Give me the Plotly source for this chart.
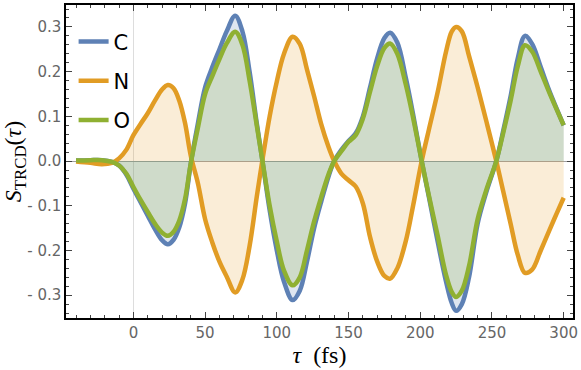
import plotly.graph_objects as go

tau = [-40, -30, -22, -15, -10, -5, 0, 5, 10, 15, 20, 24, 28, 32, 36, 40, 45, 50, 55, 60,
       65, 71, 76, 81, 86, 90, 95, 100, 105, 111, 116, 121, 126, 131, 136, 140, 145, 150, 155, 160,
       165, 170, 175, 179, 184, 190, 195, 201, 206, 212, 218, 222, 225, 229, 234, 240, 246, 253, 258, 263,
       268, 273, 278, 284, 290, 295, 300]

s_c = [0.001, 0.002, 0.002, -0.002, -0.01, -0.03, -0.062, -0.092, -0.122, -0.152, -0.177, -0.186, -0.176, -0.148, -0.095, -0.005, 0.085, 0.165, 0.21, 0.25,
       0.29, 0.325, 0.29, 0.2, 0.085, 0.0, -0.11, -0.2, -0.27, -0.311, -0.29, -0.225, -0.15, -0.09, -0.035, 0.0, 0.025, 0.045, 0.062, 0.1,
       0.165, 0.23, 0.275, 0.287, 0.265, 0.185, 0.105, 0.0, -0.08, -0.178, -0.27, -0.318, -0.335, -0.32, -0.26, -0.14, -0.07, 0.0, 0.07, 0.145,
       0.23, 0.28, 0.262, 0.21, 0.157, 0.118, 0.08]

s_n = [-0.001, -0.004, -0.007, -0.004, 0.006, 0.025, 0.058, 0.083, 0.107, 0.135, 0.16, 0.17, 0.163, 0.135, 0.085, 0.012, -0.05, -0.13, -0.182, -0.225,
       -0.258, -0.294, -0.265, -0.19, -0.08, 0.003, 0.1, 0.178, 0.24, 0.278, 0.262, 0.205, 0.145, 0.082, 0.032, 0.0, -0.028, -0.043, -0.057, -0.095,
       -0.17, -0.225, -0.257, -0.263, -0.24, -0.178, -0.1, 0.0, 0.07, 0.152, 0.245, 0.29, 0.3, 0.29, 0.235, 0.165, 0.09, 0.0, -0.07, -0.14,
       -0.21, -0.25, -0.243, -0.2, -0.155, -0.118, -0.082]

s_o = [0.001, 0.002, 0.002, -0.002, -0.01, -0.028, -0.058, -0.087, -0.114, -0.14, -0.16, -0.167, -0.158, -0.133, -0.085, -0.005, 0.075, 0.15, 0.19, 0.228,
       0.263, 0.289, 0.26, 0.18, 0.08, 0.0, -0.1, -0.18, -0.245, -0.278, -0.26, -0.2, -0.135, -0.08, -0.03, 0.0, 0.022, 0.043, 0.058, 0.095,
       0.155, 0.213, 0.253, 0.263, 0.24, 0.17, 0.097, 0.0, -0.077, -0.165, -0.255, -0.293, -0.304, -0.29, -0.235, -0.13, -0.065, 0.0, 0.065, 0.135,
       0.212, 0.259, 0.245, 0.2, 0.153, 0.116, 0.08]

series = [("C", s_c, "#5e81b5", "rgba(94,129,181,0.2)"),
          ("N", s_n, "#e19c24", "rgba(225,156,36,0.18)"),
          ("O", s_o, "#8fb032", "rgba(143,176,50,0.2)")]

fig = go.Figure()

# filled areas first, without legend entries
for name, ys, col, fcol in series:
    fig.add_trace(go.Scatter(x=tau, y=ys, mode="lines", fill="tozeroy", fillcolor=fcol,
                             line=dict(width=0, shape="spline", color=col),
                             showlegend=False, hoverinfo="skip"))

for name, ys, col, fcol in series:
    fig.add_trace(go.Scatter(x=tau, y=ys, mode="lines", name=name, legendgroup=name,
                             line=dict(width=4.5, shape="spline", color=col)))

tick_font = dict(family="DejaVu Sans", size=15, color="#666666")

fig.update_xaxes(range=[-47, 306.5], tickvals=[0, 50, 100, 150, 200, 250, 300],
                 ticks="inside", ticklen=6, tickcolor="#444", tickwidth=1,
                 minor=dict(dtick=10, tick0=0, ticks="inside", ticklen=3, tickcolor="#444"),
                 showline=True, linecolor="black", linewidth=1.5, mirror="allticks",
                 showgrid=False, zeroline=True, zerolinecolor="#dddddd", zerolinewidth=1,
                 tickfont=tick_font,
                 title=dict(text="<i>τ</i>  (fs)", font=dict(family="Liberation Serif", size=24, color="black"),
                            standoff=2))

fig.update_yaxes(range=[-0.351, 0.349],
                 tickvals=[-0.3, -0.2, -0.1, 0.0, 0.1, 0.2, 0.3],
                 ticktext=["- 0.3", "- 0.2", "- 0.1", "0.0", "0.1", "0.2", "0.3"],
                 ticks="inside", ticklen=6, tickcolor="#444", tickwidth=1,
                 minor=dict(dtick=0.02, tick0=0, ticks="inside", ticklen=3, tickcolor="#444"),
                 showline=True, linecolor="black", linewidth=1.5, mirror="allticks",
                 showgrid=False, zeroline=True, zerolinecolor="#a0a0a0", zerolinewidth=1,
                 tickfont=tick_font,
                 title=dict(text="<i>S</i><sub>TRCD</sub>(<i>τ</i>)",
                            font=dict(family="Liberation Serif", size=24, color="black"),
                            standoff=6))

fig.update_layout(width=581, height=370, margin=dict(l=66, r=4, t=3, b=52),
                  plot_bgcolor="white", paper_bgcolor="white",
                  legend=dict(x=0.015, y=0.948, xanchor="left", yanchor="top",
                              bgcolor="rgba(0,0,0,0)", traceorder="grouped", tracegroupgap=9,
                              font=dict(family="DejaVu Sans", size=21, color="black")))

# drop the page's default body margin so the figure sits at the window's corner
fig.write_html("out.html", config={"displayModeBar": False},
               post_script="document.body.style.margin='0';")
